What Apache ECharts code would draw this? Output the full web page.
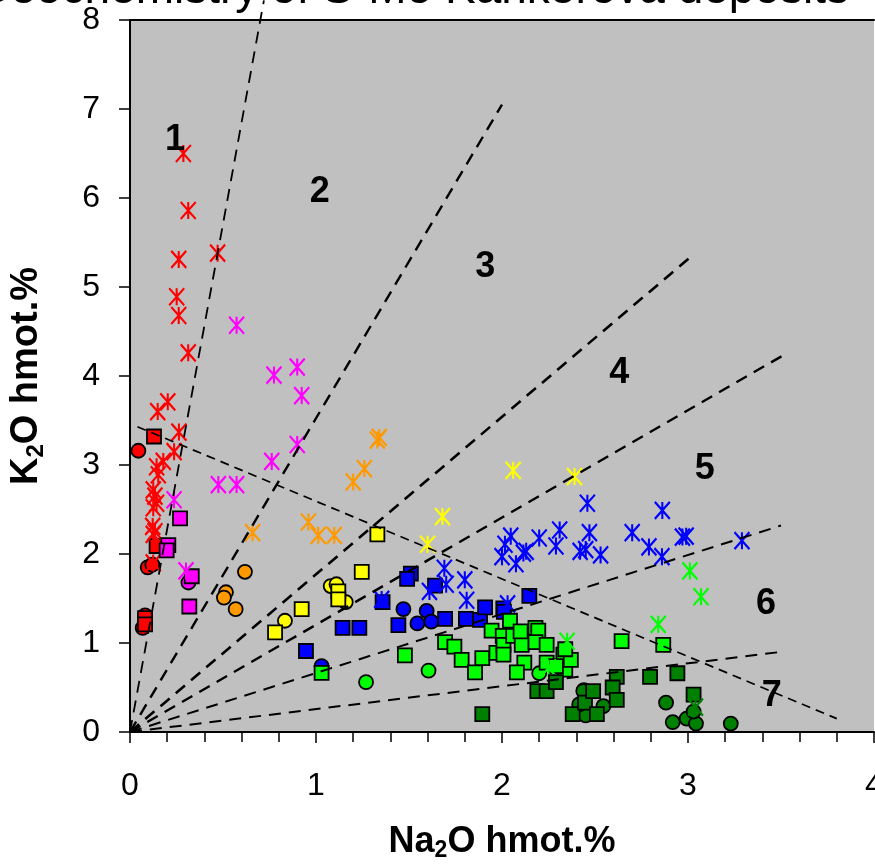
<!DOCTYPE html>
<html>
<head>
<meta charset="utf-8">
<script src="https://cdn.jsdelivr.net/npm/echarts@6/dist/echarts.min.js"></script>
<style>
  html, body { margin: 0; padding: 0; background: #fff; }
  #chart { width: 875px; height: 864px; }
</style>
</head>
<body>
<div id="chart"></div>
<script>
// Na2O vs K2O (wt.%) – samples grouped by colour and marker type
const redStar = [[0.287,6.50],[0.313,5.86],[0.471,5.38],[0.262,5.31],[0.251,4.89],[0.262,4.68],[0.313,4.26],[0.203,3.71],[0.149,3.60],[0.263,3.37],[0.237,3.15],[0.179,3.04],[0.143,2.98],[0.152,2.89],[0.125,2.72],[0.134,2.65],[0.143,2.57],[0.125,2.52],[0.122,2.31],[0.134,2.25],[0.125,2.22],[0.125,1.90]];
const redCircle = [[0.045,3.16],[0.095,1.85],[0.12,1.88],[0.081,1.31],[0.068,1.17]];
const redSquare = [[0.129,3.32],[0.143,2.09],[0.081,1.28],[0.081,1.21]];
const magentaStar = [[0.573,4.57],[0.899,4.10],[0.774,4.01],[0.923,3.78],[0.899,3.23],[0.762,3.04],[0.475,2.78],[0.573,2.78],[0.237,2.61],[0.301,1.81]];
const magentaSquare = [[0.269,2.40],[0.206,2.10],[0.197,2.04],[0.332,1.75],[0.319,1.41]];
const magentaCircle = [[0.314,1.68]];
const orangeStar = [[1.34,3.31],[1.33,3.28],[1.26,2.96],[1.20,2.81],[0.959,2.36],[1.012,2.21],[1.098,2.21],[0.659,2.24]];
const orangeCircle = [[0.618,1.80],[0.516,1.57],[0.505,1.51],[0.568,1.38]];
const yellowStar = [[2.06,2.94],[2.39,2.87],[1.68,2.42],[1.60,2.11]];
const yellowSquare = [[1.33,2.22],[1.246,1.80],[1.12,1.58],[1.12,1.49],[0.923,1.38],[0.780,1.12]];
const yellowCircle = [[1.079,1.64],[1.11,1.66],[1.16,1.46],[0.833,1.25]];
const blueStar = [[2.459,2.57],[2.862,2.49],[2.047,2.20],[2.016,2.11],[2.20,2.18],[2.31,2.27],[2.29,2.09],[2.47,2.24],[2.70,2.24],[2.79,2.08],[2.97,2.19],[2.99,2.20],[2.86,1.97],[3.29,2.15],[2.42,2.03],[2.45,2.05],[2.53,1.99],[2.115,2.01],[2.13,2.03],[2.075,1.89],[2.0,1.97],[2.03,1.44],[1.69,1.84],[1.80,1.71],[1.61,1.58],[1.70,1.66],[1.81,1.48],[1.353,1.49]];
const blueSquare = [[1.51,1.78],[1.49,1.72],[1.64,1.645],[1.358,1.46],[1.143,1.17],[1.233,1.17],[1.443,1.20],[1.694,1.27],[1.806,1.27],[1.882,1.26],[1.909,1.40],[2.007,1.39],[2.01,1.35],[2.147,1.53],[0.946,0.91]];
const blueCircle = [[1.47,1.38],[1.595,1.36],[1.545,1.22],[1.62,1.24],[1.03,0.74]];
const limeStar = [[3.01,1.81],[3.07,1.52],[2.84,1.21],[2.35,1.02],[2.25,0.72]];
const limeSquare = [[1.478,0.86],[1.03,0.665],[1.694,1.01],[1.744,0.96],[1.783,0.81],[1.855,0.67],[1.894,0.83],[1.944,1.14],[2.004,1.08],[2.043,1.25],[1.97,0.89],[2.008,0.98],[2.008,0.87],[2.06,1.08],[2.106,0.98],[2.12,0.78],[2.08,0.67],[2.18,1.17],[2.195,1.14],[2.18,1.01],[2.24,0.98],[2.24,0.78],[2.33,0.87],[2.34,0.70],[2.37,0.81],[2.10,1.13],[2.643,1.02],[2.867,0.98],[2.34,0.93],[2.29,0.74]];
const limeCircle = [[1.269,0.56],[1.605,0.69],[2.2,0.66]];
const darkSquare = [[1.894,0.20],[2.19,0.46],[2.24,0.46],[2.29,0.56],[2.38,0.20],[2.446,0.33],[2.49,0.46],[2.51,0.20],[2.617,0.62],[2.595,0.50],[2.617,0.36],[2.796,0.62],[2.943,0.66],[3.03,0.42]];
const darkCircle = [[2.45,0.187],[2.44,0.47],[2.545,0.29],[2.882,0.33],[2.918,0.11],[2.993,0.15],[3.043,0.095],[3.23,0.095],[2.437,0.46],[2.415,0.31],[3.03,0.23]];
const darkStar = [[3.04,0.28]];

// Field boundaries (end points in data units)
const rayEnds = [[0.72,8.22],[2.0,7.05],[3.01,5.33],[3.51,4.23],[3.50,2.32],[3.50,0.90]];
const rayWidths = [1.8,2.4,2.6,2.4,2.0,2.0];
const crossLine = [[0.04,3.43],[3.80,0.15]];

// Field numbers
const fieldNames = ['1','2','3','4','5','6','7'];
const fieldX = [0.242,1.02,1.91,2.63,3.09,3.42,3.45];
const fieldY = [6.65,6.07,5.22,4.03,2.95,1.44,0.40];

const xTicks = [0,1,2,3,4];
const yTicks = [0,1,2,3,4,5,6,7,8];

const STAR = 'path://M0 0L16 16M16 0L0 16M8 0L8 16';
const FONT = 'Liberation Sans, Arial, sans-serif';

function starSeries(data, color) {
  return { type: 'scatter', data, symbol: STAR, symbolSize: [15, 17], z: 3,
    itemStyle: { color: 'none', borderColor: color, borderWidth: 2.2, opacity: 1 } };
}
function boxSeries(data, color, shape) {
  return { type: 'scatter', data, symbol: shape === 'square' ? 'rect' : 'circle',
    symbolSize: 14, z: 3,
    itemStyle: { color, borderColor: '#000', borderWidth: 1.8, opacity: 1 } };
}

const series = [
  boxSeries(redCircle, '#FF0000', 'circle'),
  boxSeries(redSquare, '#FF0000', 'square'),
  starSeries(redStar, '#FF0000'),
  boxSeries(magentaCircle, '#FF00FF', 'circle'),
  boxSeries(magentaSquare, '#FF00FF', 'square'),
  starSeries(magentaStar, '#FF00FF'),
  boxSeries(orangeCircle, '#FF9900', 'circle'),
  starSeries(orangeStar, '#FF9900'),
  boxSeries(yellowCircle, '#FFFF00', 'circle'),
  boxSeries(yellowSquare, '#FFFF00', 'square'),
  starSeries(yellowStar, '#FFFF00'),
  boxSeries(blueCircle, '#0000FF', 'circle'),
  boxSeries(blueSquare, '#0000FF', 'square'),
  starSeries(blueStar, '#0000FF'),
  boxSeries(limeCircle, '#00FF00', 'circle'),
  boxSeries(limeSquare, '#00FF00', 'square'),
  starSeries(limeStar, '#00FF00'),
  boxSeries(darkCircle, '#008000', 'circle'),
  boxSeries(darkSquare, '#008000', 'square'),
  starSeries(darkStar, '#008000')
];

rayEnds.forEach((end, i) => {
  series.push({ type: 'line', data: [[0, 0], end], symbol: 'none', clip: false, z: 5,
    lineStyle: { color: '#000', width: rayWidths[i], type: [12, 8] } });
});
series.push({ type: 'line', data: crossLine, symbol: 'none', z: 5,
  lineStyle: { color: '#000', width: 1.7, type: [9, 6] } });

// Field numbers placed at data coordinates
series.push({
  type: 'custom', z: 6,
  data: fieldNames.map((n, i) => [fieldX[i], fieldY[i], n]),
  renderItem: (params, api) => {
    const p = api.coord([api.value(0), api.value(1)]);
    return { type: 'text', x: p[0], y: p[1],
      style: { text: fieldNames[params.dataIndex], fill: '#000',
        font: 'bold 36px ' + FONT, align: 'center', verticalAlign: 'middle' } };
  }
});

const chart = echarts.init(document.getElementById('chart'), null, { renderer: 'canvas' });
chart.setOption({
  animation: false,
  backgroundColor: '#fff',
  graphic: [{
    type: 'text', x: 849, y: 13,
    style: { text: 'Geochemistry of S-Mo Kankerová deposits', fill: '#000',
      font: '46px ' + FONT, align: 'right', verticalAlign: 'bottom' }
  }],
  grid: { left: 130, top: 20, right: 1, bottom: 132, show: true,
    backgroundColor: '#C0C0C0', borderWidth: 0, outerBoundsMode: 'none', containLabel: false },
  xAxis: [{
    type: 'value', min: xTicks[0], max: xTicks[xTicks.length - 1], interval: 1,
    position: 'bottom',
    axisLine: { show: true, onZero: false, lineStyle: { color: '#000', width: 2 } },
    axisTick: { show: true, inside: false, length: 11, lineStyle: { color: '#000', width: 1.5 } },
    minorTick: { show: true, splitNumber: 5, length: 10, lineStyle: { color: '#000', width: 1.5 } },
    splitLine: { show: false },
    axisLabel: { color: '#000', fontFamily: FONT, fontSize: 32, margin: 38, showMaxLabel: true },
    name: '{n|Na}{s|2}{n|O hmot.%}', nameLocation: 'middle', nameGap: 90,
    nameTextStyle: { rich: {
      n: { fontFamily: FONT, fontWeight: 'bold', fontSize: 36, color: '#000' },
      s: { fontFamily: FONT, fontWeight: 'bold', fontSize: 23, color: '#000', padding: [17, 0, 0, 0] }
    } }
  }, {
    type: 'value', min: 0, max: 4, position: 'top',
    axisLine: { show: true, onZero: false, lineStyle: { color: '#000', width: 2 } },
    axisTick: { show: false }, axisLabel: { show: false }, splitLine: { show: false }
  }],
  yAxis: {
    type: 'value', min: yTicks[0], max: yTicks[yTicks.length - 1], interval: 1,
    axisLine: { show: true, onZero: false, lineStyle: { color: '#000', width: 2 } },
    axisTick: { show: true, inside: false, length: 11, lineStyle: { color: '#000', width: 1.5 } },
    splitLine: { show: false },
    axisLabel: { color: '#000', fontFamily: FONT, fontSize: 32, margin: 30 },
    name: '{n|K}{s|2}{n|O hmot.%}', nameLocation: 'middle', nameGap: 82, nameRotate: 90,
    nameTextStyle: { rich: {
      n: { fontFamily: FONT, fontWeight: 'bold', fontSize: 38, color: '#000' },
      s: { fontFamily: FONT, fontWeight: 'bold', fontSize: 24, color: '#000', padding: [18, 0, 0, 0] }
    } }
  },
  series
});
</script>
</body>
</html>
